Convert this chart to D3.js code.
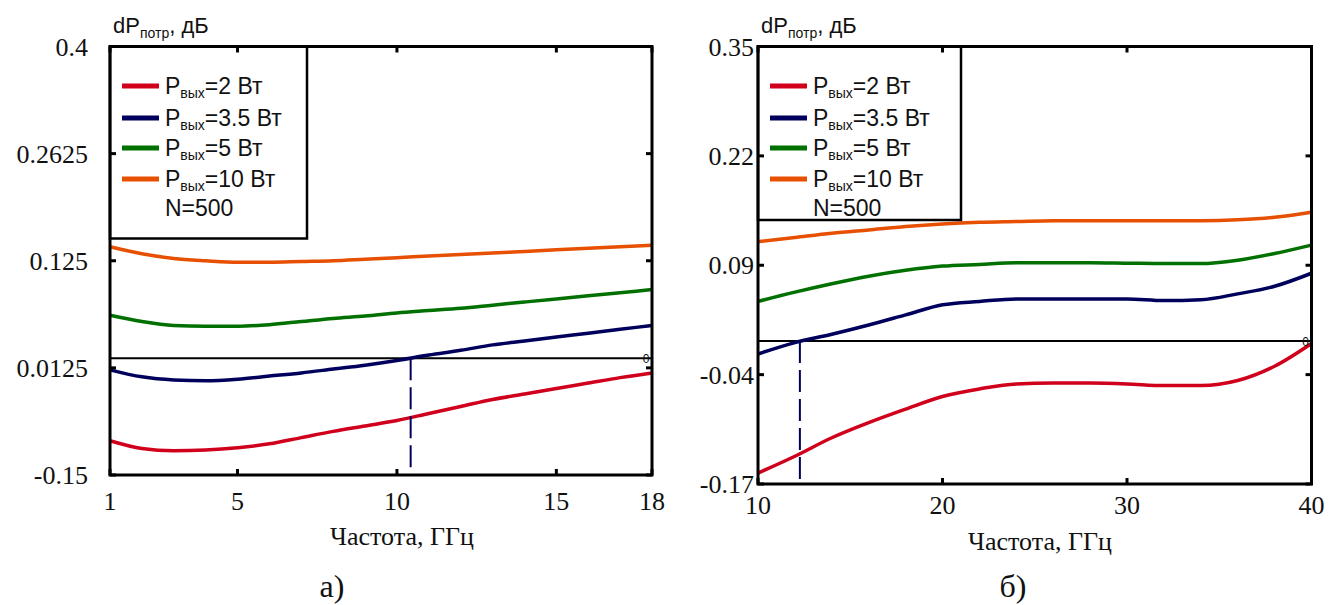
<!DOCTYPE html>
<html>
<head>
<meta charset="utf-8">
<script src="https://cdn.jsdelivr.net/npm/d3@7"></script>
<style>
  body { margin: 0; background: #fff; }
  svg { display: block; }
  .tick-label { font-family: "Liberation Serif", "Times New Roman", serif; font-size: 26px; fill: #111; }
  .axis-title { font-family: "Liberation Serif", "Times New Roman", serif; font-size: 26px; fill: #111; }
  .panel-label { font-family: "Liberation Serif", "Times New Roman", serif; font-size: 32px; fill: #111; }
  .sans { font-family: "Liberation Sans", Arial, sans-serif; fill: #111; }
</style>
</head>
<body>
<div id="chart"></div>
<script>
// ---- data ----
const seriesNames = ["2 Вт", "3.5 Вт", "5 Вт", "10 Вт"];
const seriesColors = ["#d0001c", "#00005c", "#007000", "#e65000"];

// panel a) 1..18 GHz
const freqA = [1, 2, 3, 4, 5, 6, 7, 8, 9, 10, 11, 12, 13, 14, 15, 16, 17, 18];
const p2A   = [-0.106, -0.116, -0.119, -0.118, -0.115, -0.110, -0.102, -0.094, -0.087, -0.080, -0.071, -0.062, -0.053, -0.046, -0.039, -0.032, -0.025, -0.019];
const p35A  = [-0.015, -0.024, -0.028, -0.029, -0.027, -0.023, -0.019, -0.014, -0.009, -0.003, 0.004, 0.010, 0.017, 0.022, 0.027, 0.032, 0.037, 0.042];
const p5A   = [0.055, 0.047, 0.042, 0.041, 0.041, 0.043, 0.047, 0.051, 0.054, 0.058, 0.061, 0.064, 0.068, 0.072, 0.076, 0.080, 0.084, 0.088];
const p10A  = [0.143, 0.134, 0.128, 0.125, 0.123, 0.123, 0.124, 0.125, 0.127, 0.129, 0.131, 0.133, 0.135, 0.137, 0.139, 0.141, 0.143, 0.145];
const yTicksA = [-0.15, -0.0125, 0.125, 0.2625, 0.4];
const yTickLabelsA = ["-0.15", "0.0125", "0.125", "0.2625", "0.4"];
const xTicksA = [1, 5, 10, 15, 18];
const crossA = 10.43;

// panel б) 10..40 GHz
const freqB = [10, 12, 14, 16, 18, 20, 22, 24, 26, 28, 30, 32, 34, 36, 38, 40];
const p2B   = [-0.157, -0.137, -0.115, -0.097, -0.081, -0.066, -0.057, -0.051, -0.050, -0.050, -0.051, -0.053, -0.053, -0.047, -0.030, -0.003];
const p35B  = [-0.0155, -0.002, 0.008, 0.019, 0.031, 0.043, 0.047, 0.050, 0.050, 0.050, 0.050, 0.048, 0.049, 0.056, 0.065, 0.0805];
const p5B   = [0.047, 0.058, 0.068, 0.077, 0.084, 0.089, 0.091, 0.093, 0.093, 0.093, 0.0925, 0.092, 0.092, 0.096, 0.104, 0.114];
const p10B  = [0.118, 0.123, 0.128, 0.132, 0.136, 0.139, 0.141, 0.142, 0.143, 0.143, 0.143, 0.143, 0.143, 0.144, 0.147, 0.153];
const yTicksB = [-0.17, -0.04, 0.09, 0.22, 0.35];
const yTickLabelsB = ["-0.17", "-0.04", "0.09", "0.22", "0.35"];
const xTicksB = [10, 20, 30, 40];
const crossB = 12.27;

const W = 1330, H = 605;
const svg = d3.select("#chart").append("svg").attr("width", W).attr("height", H);

const panels = [
  { freq: freqA, series: [p2A, p35A, p5A, p10A], yTicks: yTicksA, yLabels: yTickLabelsA, xTicks: xTicksA, cross: crossA,
    x0: 110, x1: 652, y0: 46.5, y1: 475, legendW: 197, legendH: 192, labelGap: 22, xLabelDy: 35,
    titleX: 402, titleY: 545, panelText: "а)", panelX: 332, panelY: 597 },
  { freq: freqB, series: [p2B, p35B, p5B, p10B], yTicks: yTicksB, yLabels: yTickLabelsB, xTicks: xTicksB, cross: crossB,
    x0: 758, x1: 1311.5, y0: 46.5, y1: 484, legendW: 203, legendH: 173.5, labelGap: 4, xLabelDy: 30,
    titleX: 1040, titleY: 550, panelText: "б)", panelX: 1013, panelY: 597 }
];

panels.forEach(p => {
  const x = d3.scaleLinear().domain(d3.extent(p.freq)).range([p.x0, p.x1]);
  const y = d3.scaleLinear().domain([p.yTicks[0], p.yTicks[p.yTicks.length - 1]]).range([p.y1, p.y0]);
  const g = svg.append("g");

  // zero line
  g.append("line")
    .attr("x1", p.x0).attr("x2", p.x1)
    .attr("y1", y(0)).attr("y2", y(0))
    .attr("stroke", "#000").attr("stroke-width", 2);

  // curves
  const line = d3.line().x(d => x(d[0])).y(d => y(d[1])).curve(d3.curveMonotoneX);
  p.series.forEach((s, i) => {
    g.append("path")
      .datum(p.freq.map((f, k) => [f, s[k]]))
      .attr("fill", "none")
      .attr("stroke", seriesColors[i])
      .attr("stroke-width", 3.5)
      .attr("d", line);
  });

  // dashed crossing marker
  g.append("line")
    .attr("x1", x(p.cross)).attr("x2", x(p.cross))
    .attr("y1", y(0)).attr("y2", p.y1)
    .attr("stroke", "#00005c").attr("stroke-width", 2)
    .attr("stroke-dasharray", "22,7");

  // little "0" marker at the right end of the zero line
  g.append("text")
    .attr("x", p.x1 - 6).attr("y", y(0) + 5)
    .attr("text-anchor", "middle")
    .attr("class", "sans")
    .style("font-size", "12px")
    .text("0");

  // legend box
  const lg = g.append("g");
  lg.append("rect")
    .attr("x", p.x0).attr("y", p.y0)
    .attr("width", p.legendW).attr("height", p.legendH)
    .attr("fill", "#fff").attr("stroke", "#000").attr("stroke-width", 2.5);
  const rowY = [86, 118, 148, 179];
  seriesNames.forEach((name, i) => {
    lg.append("line")
      .attr("x1", p.x0 + 12).attr("x2", p.x0 + 49)
      .attr("y1", rowY[i]).attr("y2", rowY[i])
      .attr("stroke", seriesColors[i]).attr("stroke-width", 5);
    const t = lg.append("text")
      .attr("class", "sans")
      .attr("x", p.x0 + 55).attr("y", rowY[i] + 8)
      .style("font-size", "23px");
    t.append("tspan").text("P");
    t.append("tspan").attr("dy", 4).style("font-size", "14px").text("вых");
    t.append("tspan").attr("dy", -4).text("=" + name);
  });
  lg.append("text")
    .attr("class", "sans")
    .attr("x", p.x0 + 55).attr("y", 216)
    .style("font-size", "23px")
    .text("N=500");

  // frame
  g.append("rect")
    .attr("x", p.x0).attr("y", p.y0)
    .attr("width", p.x1 - p.x0).attr("height", p.y1 - p.y0)
    .attr("fill", "none").attr("stroke", "#000").attr("stroke-width", 3);

  // inward ticks on all four sides
  const tl = 6;
  p.yTicks.forEach(v => {
    g.append("line").attr("x1", p.x0).attr("x2", p.x0 + tl).attr("y1", y(v)).attr("y2", y(v))
      .attr("stroke", "#000").attr("stroke-width", 3);
    g.append("line").attr("x1", p.x1).attr("x2", p.x1 - tl).attr("y1", y(v)).attr("y2", y(v))
      .attr("stroke", "#000").attr("stroke-width", 3);
  });
  p.xTicks.forEach(v => {
    g.append("line").attr("x1", x(v)).attr("x2", x(v)).attr("y1", p.y1).attr("y2", p.y1 - tl)
      .attr("stroke", "#000").attr("stroke-width", 3);
    g.append("line").attr("x1", x(v)).attr("x2", x(v)).attr("y1", p.y0).attr("y2", p.y0 + tl)
      .attr("stroke", "#000").attr("stroke-width", 3);
  });

  // tick labels
  p.yTicks.forEach((v, i) => {
    g.append("text").attr("class", "tick-label")
      .attr("x", p.x0 - p.labelGap).attr("y", y(v))
      .attr("dy", "0.35em").attr("text-anchor", "end")
      .text(p.yLabels[i]);
  });
  p.xTicks.forEach(v => {
    g.append("text").attr("class", "tick-label")
      .attr("x", x(v)).attr("y", p.y1 + p.xLabelDy)
      .attr("text-anchor", "middle")
      .text(v);
  });

  // y axis title
  const yt = g.append("text").attr("class", "sans")
    .attr("x", p.x0 + 3).attr("y", 33)
    .style("font-size", "22px");
  yt.append("tspan").text("dP");
  yt.append("tspan").attr("dy", 5).style("font-size", "14px").text("потр");
  yt.append("tspan").attr("dy", -5).text(", дБ");

  // x axis title
  g.append("text").attr("class", "axis-title")
    .attr("x", p.titleX).attr("y", p.titleY)
    .attr("text-anchor", "middle")
    .text("Частота, ГГц");

  // panel caption
  g.append("text").attr("class", "panel-label")
    .attr("x", p.panelX).attr("y", p.panelY)
    .attr("text-anchor", "middle")
    .text(p.panelText);
});
</script>
</body>
</html>
